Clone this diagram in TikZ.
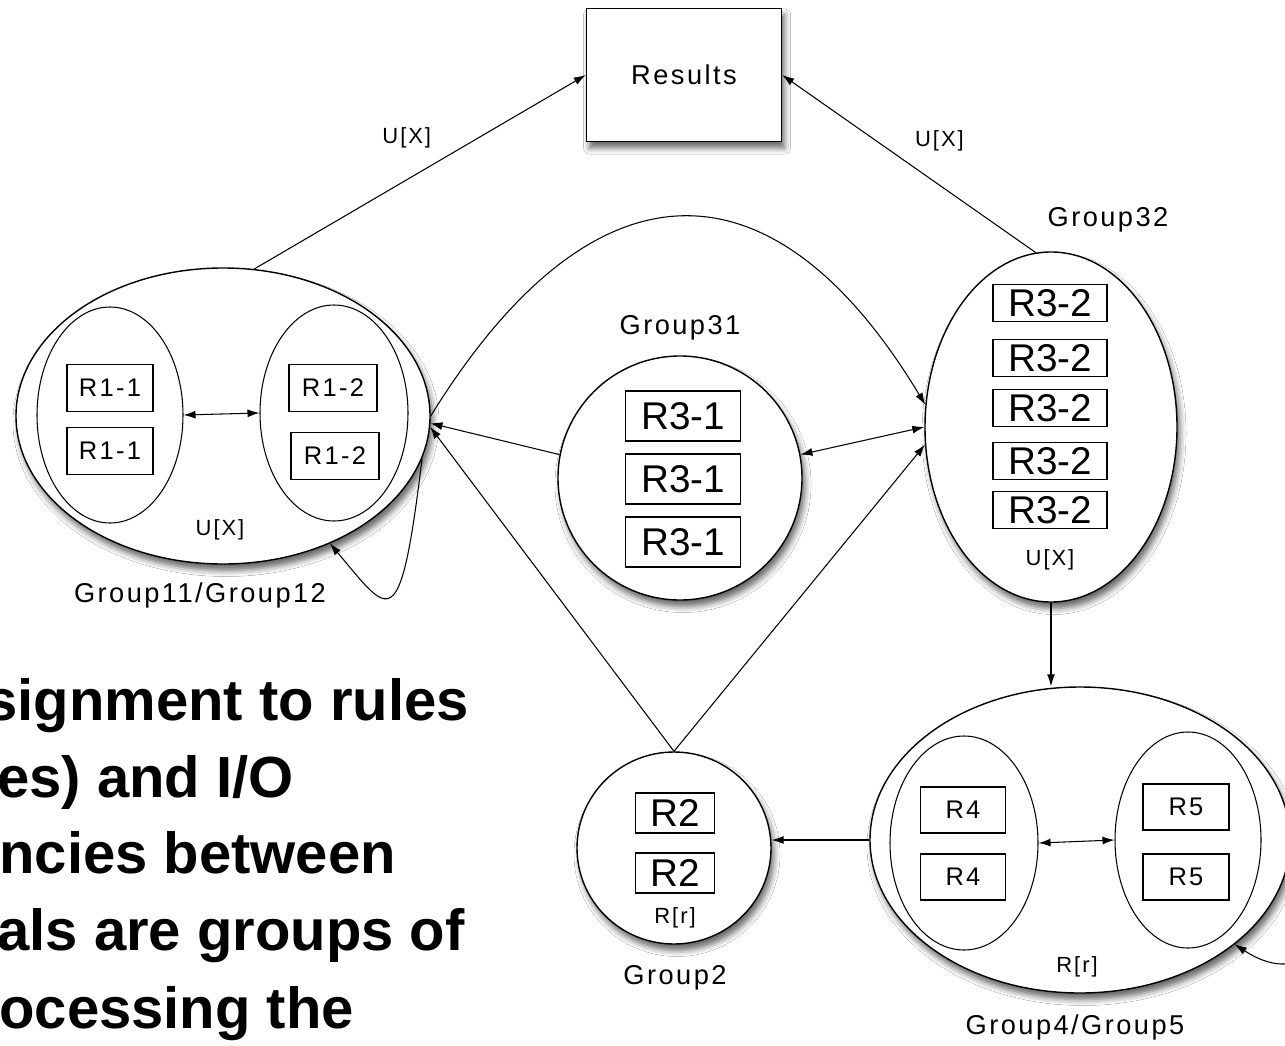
\documentclass[tikz,border=0pt]{standalone}
\usepackage{fontspec}
\setmainfont{Liberation Sans}
\newfontfamily\lblfont[LetterSpace=9]{Liberation Sans}
\usetikzlibrary{shapes.geometric,arrows.meta,shadows.blur}

\begin{document}
\begin{tikzpicture}[x=0.2mm, y=-0.2mm,
        lifted/.style={blur shadow={shadow xshift=0.6mm, shadow yshift=-1.3mm, shadow blur radius=1.2mm, shadow opacity=60}},
        group/.style={ellipse, draw, line width=0.8pt, fill=white, inner sep=0pt, lifted},
        sub/.style={ellipse, draw, line width=0.6pt, inner sep=0pt},
        rule/.style={rectangle, draw, line width=0.7pt, fill=white, inner sep=0pt, font=\lblfont\fontsize{14.5}{17}\selectfont},
        bigrule/.style={rule, font=\fontsize{22}{26}\selectfont},
        lbl/.style={font=\lblfont\fontsize{15.5}{18}\selectfont},
        small/.style={font=\lblfont\fontsize{12.5}{15}\selectfont},
        link/.style={line width=0.6pt, -{Latex[length=2.4mm,width=1.6mm]}},
        both/.style={line width=0.6pt, {Latex[length=2.4mm,width=1.6mm]}-{Latex[length=2.4mm,width=1.6mm]}},
        say/.style={anchor=base west, inner sep=0pt, font=\bfseries\fontsize{33}{44}\selectfont}]
        \path[use as bounding box, fill=white] (0,0) rectangle (1285,1045);

        \node (Results) at (684,75) [rectangle, draw, line width=0.8pt, fill=white, minimum width=39mm, minimum height=26.6mm, lbl, lifted] {Results};

        % Group11/Group12
        \node (g1) at (223,416) [group, minimum width=82.8mm, minimum height=59.2mm] {};
        \node (g1a) at (110,415) [sub, minimum width=29.2mm, minimum height=43.2mm] {};
        \node (g1b) at (334,413) [sub, minimum width=29.6mm, minimum height=43.2mm] {};
        \node (r11a) at (110,388) [rule, minimum width=17.2mm, minimum height=9.4mm] {R1-1};
        \node (r11b) at (110,451) [rule, minimum width=17.2mm, minimum height=9.4mm] {R1-1};
        \node (r12a) at (333,388) [rule, minimum width=17.6mm, minimum height=9.4mm] {R1-2};
        \node (r12b) at (335,456) [rule, minimum width=17.6mm, minimum height=9.4mm] {R1-2};
        \node (ux1) at (220,530) [small] {U[X]};
        \node (n1) at (200,595) [lbl] {Group11/Group12};

        % Group31
        \node (g31) at (680,478) [group, circle, minimum size=48.8mm] {};
        \node (r31a) at (683,416) [bigrule, minimum width=23mm, minimum height=10mm] {R3-1};
        \node (r31b) at (683,479) [bigrule, minimum width=23mm, minimum height=10mm] {R3-1};
        \node (r31c) at (683,542) [bigrule, minimum width=23mm, minimum height=10mm] {R3-1};
        \node (n31) at (680,328) [lbl] {Group31};

        % Group32
        \node (g32) at (1051,427) [group, minimum width=50.4mm, minimum height=70mm] {};
        \foreach \y in {303,358,408,461,510}
            \node (r32-\y) at (1050,\y) [bigrule, minimum width=22.8mm, minimum height=7.4mm] {R3-2};
        \node (ux32) at (1050,560) [small] {U[X]};
        \node (n32) at (1108,220) [lbl] {Group32};

        % Group2
        \node (g2) at (674,848) [group, minimum width=38.8mm, minimum height=38.4mm] {};
        \node (r2a) at (675,813) [bigrule, minimum width=15.8mm, minimum height=8mm] {R2};
        \node (r2b) at (675,873) [bigrule, minimum width=15.8mm, minimum height=8mm] {R2};
        \node (rr2) at (675,918) [small] {R[r]};
        \node (n2) at (675,978) [lbl] {Group2};

        % Group4/Group5
        \node (g4) at (1080,840) [group, minimum width=84mm, minimum height=61.2mm] {};
        \node (g4a) at (964,843) [sub, minimum width=29.6mm, minimum height=42.8mm] {};
        \node (g4b) at (1188,840) [sub, minimum width=29.2mm, minimum height=43.2mm] {};
        \node (r4a) at (963,810) [rule, minimum width=17mm, minimum height=9.2mm] {R4};
        \node (r4b) at (963,877) [rule, minimum width=17mm, minimum height=9.2mm] {R4};
        \node (r5a) at (1186,807) [rule, minimum width=17.2mm, minimum height=9.2mm] {R5};
        \node (r5b) at (1186,877) [rule, minimum width=17.2mm, minimum height=9.2mm] {R5};
        \node (rr4) at (1077,967) [small] {R[r]};
        \node (n4) at (1075,1027) [lbl] {Group4/Group5};

        % text cut at the left edge
        \node (t1) at (-15,720) [say] {signment to rules};
        \node (t2) at (-3,797) [say] {es) and I/O};
        \node (t3) at (-1,873) [say] {ncies between};
        \node (t4) at (-3,950) [say] {als are groups of};
        \node (t5) at (-1,1028) [say] {ocessing the};

        % to Results
        \draw[link] (g1.78) -- node[pos=0.46, above=5mm, small] (uxl) {U[X]} (Results.west);
        \draw[link] (g32.95) -- node[pos=0.38, above=5.5mm, small] (uxr) {U[X]} (Results.east);
        % into Group11/Group12
        \draw[link] (g31.169) -- (g1.-2);
        \draw[link] (g2.north) -- (g1.-3);
        % into Group32
        \draw[link] (g1.east) .. controls (595,150) and (775,155) .. (g32.170);
        \draw[both] (g31.11) -- (g32.west);
        \draw[link] (g2.north) -- (g32.188);
        % down and left
        \draw[link] (g32.south) -- (g32.south |- g4.north);
        \draw[link] (g4.west) -- (g4.west -| g2.east);
        % inside
        \draw[both] (g1a.east) -- (g1b.west);
        \draw[both] (g4a.east) -- (g4b.west);
        % loops
        \draw[link] (g1.-12) .. controls (400,640) and (390,615) .. (g1.-50);
        \draw[link] (g4.-5) .. controls (1360,900) and (1320,1000) .. (g4.-34);
    \end{tikzpicture}
\end{document}
